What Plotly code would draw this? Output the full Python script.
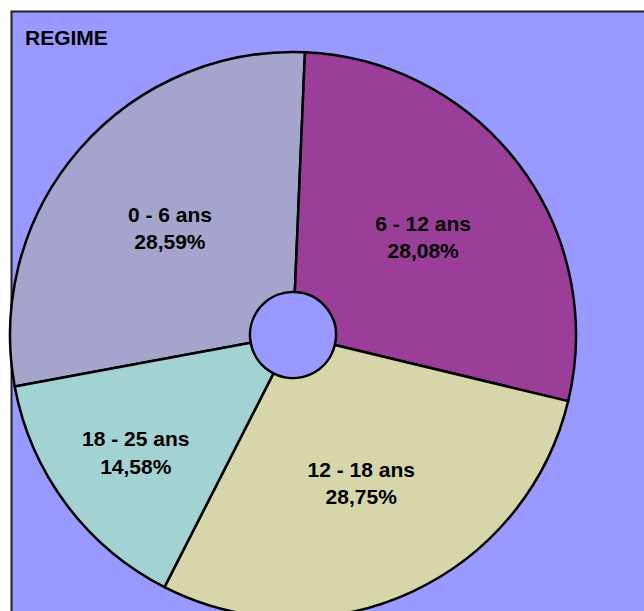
import plotly.graph_objects as go

# Data
title_text = "REGIME"
categories = ["0 - 6 ans", "6 - 12 ans", "12 - 18 ans", "18 - 25 ans"]
percent_labels = ["28,59%", "28,08%", "28,75%", "14,58%"]
values = [28.59, 28.08, 28.75, 14.58]
slice_colors = ["#A4A4CC", "#9A3E9A", "#D6D6AA", "#A2D2D2"]

W, H = 644, 620
bg = "#9999FF"

# pie geometry (pixels)
cx, cy, r = 293, 335, 283

texts = [f"{c}<br>{p}" for c, p in zip(categories, percent_labels)]

fig = go.Figure()
fig.add_trace(go.Pie(
    values=values,
    labels=categories,
    text=texts,
    textinfo="text",
    textposition="inside",
    insidetextorientation="horizontal",
    sort=False,
    direction="clockwise",
    rotation=-100.5,
    hole=0.152,
    marker=dict(colors=slice_colors, line=dict(color="#000000", width=2.5)),
    textfont=dict(family="Liberation Sans, Arial, sans-serif", size=21, color="#000000"),
    texttemplate="<b>%{text}</b>",
    domain=dict(x=[(cx - r) / W, (cx + r) / W], y=[1 - (cy + r) / H, 1 - (cy - r) / H]),
    showlegend=False,
    hoverinfo="label+percent",
))

fig.add_shape(type="rect", xref="paper", yref="paper",
              x0=11.5 / W, x1=1.2, y0=-0.2, y1=1 - 11.5 / H,
              fillcolor=bg, line=dict(color="#222222", width=2), layer="below")

fig.add_annotation(text="<b>" + title_text + "</b>", xref="paper", yref="paper",
                   x=23 / W, y=1 - 38 / H, xanchor="left", yanchor="middle",
                   showarrow=False,
                   font=dict(family="Liberation Sans, Arial, sans-serif", size=21, color="#000000"))

fig.update_layout(width=W, height=H, margin=dict(l=0, r=0, t=0, b=0),
                  paper_bgcolor="#FFFFFF", showlegend=False)

fig.write_html("out.html",
               post_script="document.body.style.overflow='hidden';document.documentElement.style.overflow='hidden';document.body.style.margin='0';")
